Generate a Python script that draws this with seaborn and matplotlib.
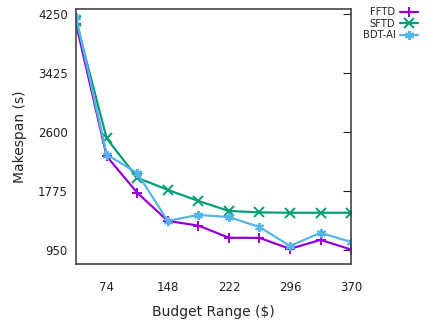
import matplotlib
matplotlib.use("Agg")
import matplotlib.pyplot as plt
import seaborn as sns

budget = [37, 74, 111, 148, 185, 222, 259, 296, 333, 370]
fftd = [4110, 2260, 1750, 1355, 1290, 1120, 1118, 965, 1090, 955]
sftd = [4150, 2510, 1960, 1790, 1635, 1495, 1475, 1470, 1470, 1470]
bdt_ai = [4210, 2285, 2025, 1355, 1440, 1410, 1270, 1005, 1190, 1060]

series = ["FFTD", "SFTD", "BDT-AI"]
colors = ["#9400D3", "#009E73", "#56B4E9"]
markers = ["+", "x", (6, 2, 0)]

sns.set_style("white")
plt.rcParams['font.family'] = ['DejaVu Sans']

fig = plt.figure(figsize=(4.4, 3.25), dpi=100)
ax = fig.add_axes([0.173, 0.188, 0.625, 0.784])

for name, vals, c, m in zip(series, [fftd, sftd, bdt_ai], colors, markers):
    sns.lineplot(x=budget, y=vals, color=c, marker=m, markersize=6.5,
                 markeredgewidth=1.4, markeredgecolor=c, linewidth=1.6,
                 label=name, ax=ax)

ax.set_xlim(37, 370)
ax.set_ylim(754, 4320)
ax.set_xticks([74, 148, 222, 296, 370])
ax.set_yticks([950, 1775, 2600, 3425, 4250])
ax.tick_params(axis="y", direction="in", right=True, length=6, labelsize=8.5,
               pad=6, colors="#222222")
ax.tick_params(axis="x", direction="in", length=0, labelsize=8.5, pad=12,
               colors="#222222")
for sp in ax.spines.values():
    sp.set_color("#444444")
    sp.set_linewidth(1.2)
ax.set_xlabel("Budget Range ($)", fontsize=10, labelpad=8)
ax.set_ylabel("Makespan (s)", fontsize=10, labelpad=8)

leg = ax.legend(loc="upper left", bbox_to_anchor=(1.02, 1.03),
                frameon=False, markerfirst=False, fontsize=7.2,
                handlelength=1.8, labelspacing=0.15, borderaxespad=0.2,
                handletextpad=0.5)

fig.savefig("out.png", dpi=100)
